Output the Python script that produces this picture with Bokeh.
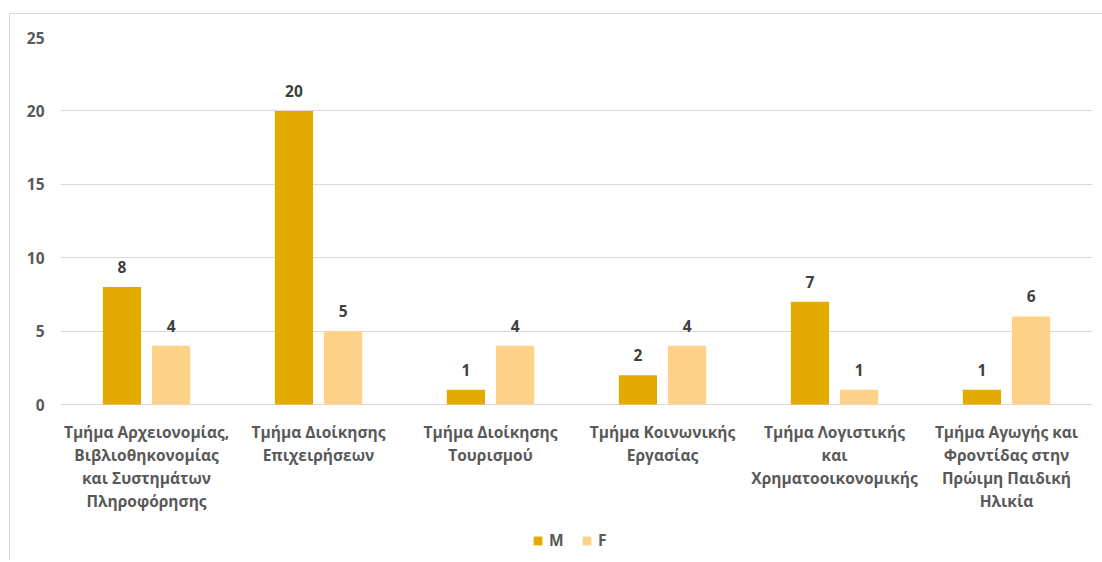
from bokeh.plotting import figure
from bokeh.models import (Range1d, FixedTicker, ColumnDataSource, LabelSet, Legend, LegendItem)
from bokeh.core.properties import value
from bokeh.transform import dodge
from bokeh.embed import file_html
from bokeh.resources import INLINE

categories = [
    "Τμήμα Αρχειονομίας,\nΒιβλιοθηκονομίας\nκαι Συστημάτων\nΠληροφόρησης",
    "Τμήμα Διοίκησης\nΕπιχειρήσεων",
    "Τμήμα Διοίκησης\nΤουρισμού",
    "Τμήμα Κοινωνικής\nΕργασίας",
    "Τμήμα Λογιστικής\nκαι\nΧρηματοοικονομικής",
    "Τμήμα Αγωγής και\nΦροντίδας στην\nΠρώιμη Παιδική\nΗλικία",
]
m_values = [8, 20, 1, 2, 7, 1]
f_values = [4, 5, 4, 4, 1, 6]
y_ticks = [0, 5, 10, 15, 20, 25]

FONT = "Open Sans"
TXT = "#595959"
M_COL = "#E3AA00"
F_COL = "#FFD28A"

# layout: value axis spans 367 px, the frame continues below zero for labels + legend
AXIS_PX = 367
FRAME_PX = 523
Y_MAX = y_ticks[-1]
Y_MIN = -Y_MAX * (FRAME_PX - AXIS_PX) / AXIS_PX

centers = [i + 0.5 for i in range(len(categories))]
src = ColumnDataSource(dict(
    x=centers,
    base=[0] * len(categories),
    cat=categories,
    m=m_values, f=f_values,
    mt=[str(v) for v in m_values], ft=[str(v) for v in f_values],
))

p = figure(frame_width=1032, frame_height=FRAME_PX, output_backend="svg", toolbar_location=None,
           x_range=Range1d(0, len(categories)), y_range=Range1d(Y_MIN, Y_MAX),
           x_axis_location=None,
           min_border_left=50, min_border_right=10, min_border_top=23, min_border_bottom=0,
           margin=(13, 0, 0, 9))
p.styles = {"border-top": "1px solid #d9d9d9", "border-left": "1px solid #d9d9d9"}
p.outline_line_color = None
p.background_fill_color = "white"
p.border_fill_color = "white"

rm = p.vbar(x=dodge("x", -0.143, range=p.x_range), top="m", width=0.222, source=src,
            fill_color=M_COL, line_color=None)
rf = p.vbar(x=dodge("x", 0.143, range=p.x_range), top="f", width=0.222, source=src,
            fill_color=F_COL, line_color=None)

for col, txt, off in (("m", "mt", -0.143), ("f", "ft", 0.143)):
    p.add_layout(LabelSet(x=dodge("x", off, range=p.x_range), y=col, text=txt, source=src,
                          y_offset=20, text_align="center", text_baseline="middle",
                          text_font=value(FONT), text_font_style="bold", text_font_size="15.5px",
                          text_color="#404040"))

# category labels under the baseline
p.text(x="x", y="base", text="cat", source=src, y_offset=16,
       text_align="center", text_baseline="top", text_font=value(FONT),
       text_font_style="bold", text_font_size="15.5px", text_line_height=1.05,
       text_color=TXT)

p.xgrid.grid_line_color = None
p.ygrid.grid_line_color = "#d9d9d9"
p.ygrid.ticker = FixedTicker(ticks=y_ticks)

p.yaxis.ticker = FixedTicker(ticks=y_ticks)
p.yaxis.axis_line_color = None
p.yaxis.major_tick_line_color = None
p.yaxis.minor_tick_line_color = None
p.yaxis.major_label_standoff = 10
p.yaxis.major_label_text_font = FONT
p.yaxis.major_label_text_font_style = "bold"
p.yaxis.major_label_text_font_size = "15.5px"
p.yaxis.major_label_text_color = TXT

legend = Legend(items=[LegendItem(label="M", renderers=[rm]), LegendItem(label="F", renderers=[rf])],
                orientation="horizontal", location=(472, 9),
                glyph_width=11, glyph_height=11, spacing=12, label_standoff=6,
                label_text_font=FONT, label_text_font_style="bold", label_text_font_size="15.5px",
                label_text_color=TXT, border_line_color=None, background_fill_alpha=0,
                margin=0, padding=0)
p.add_layout(legend, "center")

open("out.html", "w").write(file_html(p, INLINE))
